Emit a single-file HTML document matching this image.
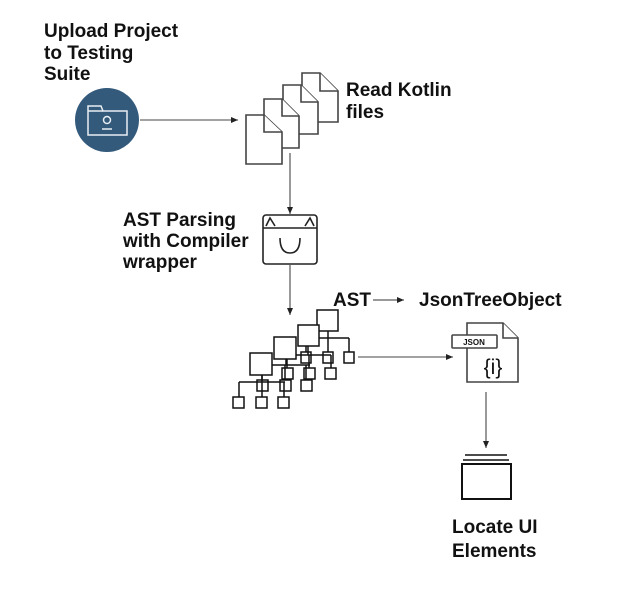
<!DOCTYPE html>
<html><head><meta charset="utf-8"><style>
html,body{margin:0;padding:0;background:#fff;}
svg{display:block}
text{font-family:"Liberation Sans",Arial,sans-serif;font-weight:bold;font-size:19px;fill:#111}
</style></head><body>
<svg width="622" height="590" viewBox="0 0 622 590" xmlns="http://www.w3.org/2000/svg">
<defs><marker id="a" markerWidth="8" markerHeight="8" refX="7" refY="4" orient="auto" markerUnits="userSpaceOnUse"><path d="M0,1 L7,4 L0,7 Z" fill="#222"/></marker></defs>
<text x="44" y="37">Upload Project</text>
<text x="44" y="59">to Testing</text>
<text x="44" y="80">Suite</text>
<circle cx="107" cy="120" r="32" fill="#335a7b"/>
<g fill="none" stroke="#e8eef3" stroke-width="1.5">
<path d="M88,106 L88,135 L127,135 L127,111 L103,111 L101,106 Z"/>
<path d="M88,111 L103,111"/>
<circle cx="107" cy="120" r="3.5"/>
<path d="M102,129 L112,129"/>
</g>
<line x1="140" y1="120" x2="238" y2="120" stroke="#444" stroke-width="1" marker-end="url(#a)"/>
<g fill="#fff" stroke="#444" stroke-width="1.6">
<path d="M302,73 L320,73 L338,91 L338,122 L302,122 Z"/><path d="M320,73 L320,91 L338,91"/>
<path d="M283,85 L301,85 L318,102 L318,134 L283,134 Z"/><path d="M301,85 L301,102 L318,102"/>
<path d="M264,99 L282,99 L299,116 L299,148 L264,148 Z"/><path d="M282,99 L282,116 L299,116"/>
<path d="M246,115 L264,115 L282,132 L282,164 L246,164 Z"/><path d="M264,115 L264,132 L282,132"/>
</g>
<text x="346" y="96">Read Kotlin</text>
<text x="346" y="118">files</text>
<line x1="290" y1="153" x2="290" y2="214" stroke="#333" stroke-width="1" marker-end="url(#a)"/>
<g fill="none" stroke="#222" stroke-width="1.6">
<rect x="263" y="215" width="54" height="49" rx="3"/>
<path d="M263,228 L317,228"/>
<path d="M266,226 L270,218 L275,226"/><path d="M305,226 L310,218 L314,226"/>
<path d="M280,238 Q280,253 290,253 Q300,253 300,238"/>
</g>
<text x="123" y="226">AST Parsing</text>
<text x="123" y="247">with Compiler</text>
<text x="123" y="268">wrapper</text>
<line x1="290" y1="265" x2="290" y2="315" stroke="#333" stroke-width="1" marker-end="url(#a)"/>
<text x="333" y="306">AST</text>
<line x1="373" y1="300" x2="404" y2="300" stroke="#333" stroke-width="1" marker-end="url(#a)"/>
<text x="419" y="306">JsonTreeObject</text>
<g fill="none" stroke="#111" stroke-width="1.5">
<path d="M328,331 L328,338 M306,338 L349,338 M306,338 L306,352 M328,338 L328,352 M349,338 L349,352"/>
<path d="M308,346 L308,355 M287,355 L331,355 M287,355 L287,368 M309,355 L309,368 M331,355 L331,368"/>
<path d="M286,359 L286,365 M262,365 L310,365 M262,365 L262,380 M285,365 L285,380 M306,365 L306,380"/>
<path d="M262,375 L262,382 M239,382 L285,382 M239,382 L239,397 M262,382 L262,397 M284,382 L284,397"/>
</g>
<g fill="#fff" stroke="#111" stroke-width="1.5">
<rect x="317" y="310" width="21" height="21"/>
<rect x="298" y="325" width="21" height="21"/>
<rect x="274" y="337" width="22" height="22"/>
<rect x="250" y="353" width="22" height="22"/>
</g>
<g fill="none" stroke="#111" stroke-width="1.5">
<rect x="301" y="352" width="10" height="11"/><rect x="323" y="352" width="10" height="11"/><rect x="344" y="352" width="10" height="11"/>
<rect x="282" y="368" width="11" height="11"/><rect x="304" y="368" width="11" height="11"/><rect x="325" y="368" width="11" height="11"/>
<rect x="257" y="380" width="11" height="11"/><rect x="280" y="380" width="11" height="11"/><rect x="301" y="380" width="11" height="11"/>
<rect x="233" y="397" width="11" height="11"/><rect x="256" y="397" width="11" height="11"/><rect x="278" y="397" width="11" height="11"/>
</g>
<line x1="358" y1="357" x2="453" y2="357" stroke="#444" stroke-width="1" marker-end="url(#a)"/>
<g fill="#fff" stroke="#444" stroke-width="1.6">
<path d="M467,323 L503,323 L518,338 L518,382 L467,382 Z"/><path d="M503,323 L503,338 L518,338"/>
<rect x="452" y="335" width="45" height="13" rx="1"/>
</g>
<text x="474" y="345" style="font-size:8px" text-anchor="middle">JSON</text>
<text x="493" y="374" style="font-size:21px;font-weight:normal" text-anchor="middle">{i}</text>
<line x1="486" y1="392" x2="486" y2="448" stroke="#333" stroke-width="1" marker-end="url(#a)"/>
<g fill="none" stroke="#111">
<path d="M465,455 L507,455" stroke-width="1.5"/>
<path d="M463,460 L509,460" stroke-width="1.5"/>
<rect x="462" y="464" width="49" height="35" stroke-width="2"/>
</g>
<text x="452" y="533">Locate UI</text>
<text x="452" y="557">Elements</text>
</svg>
</body></html>
